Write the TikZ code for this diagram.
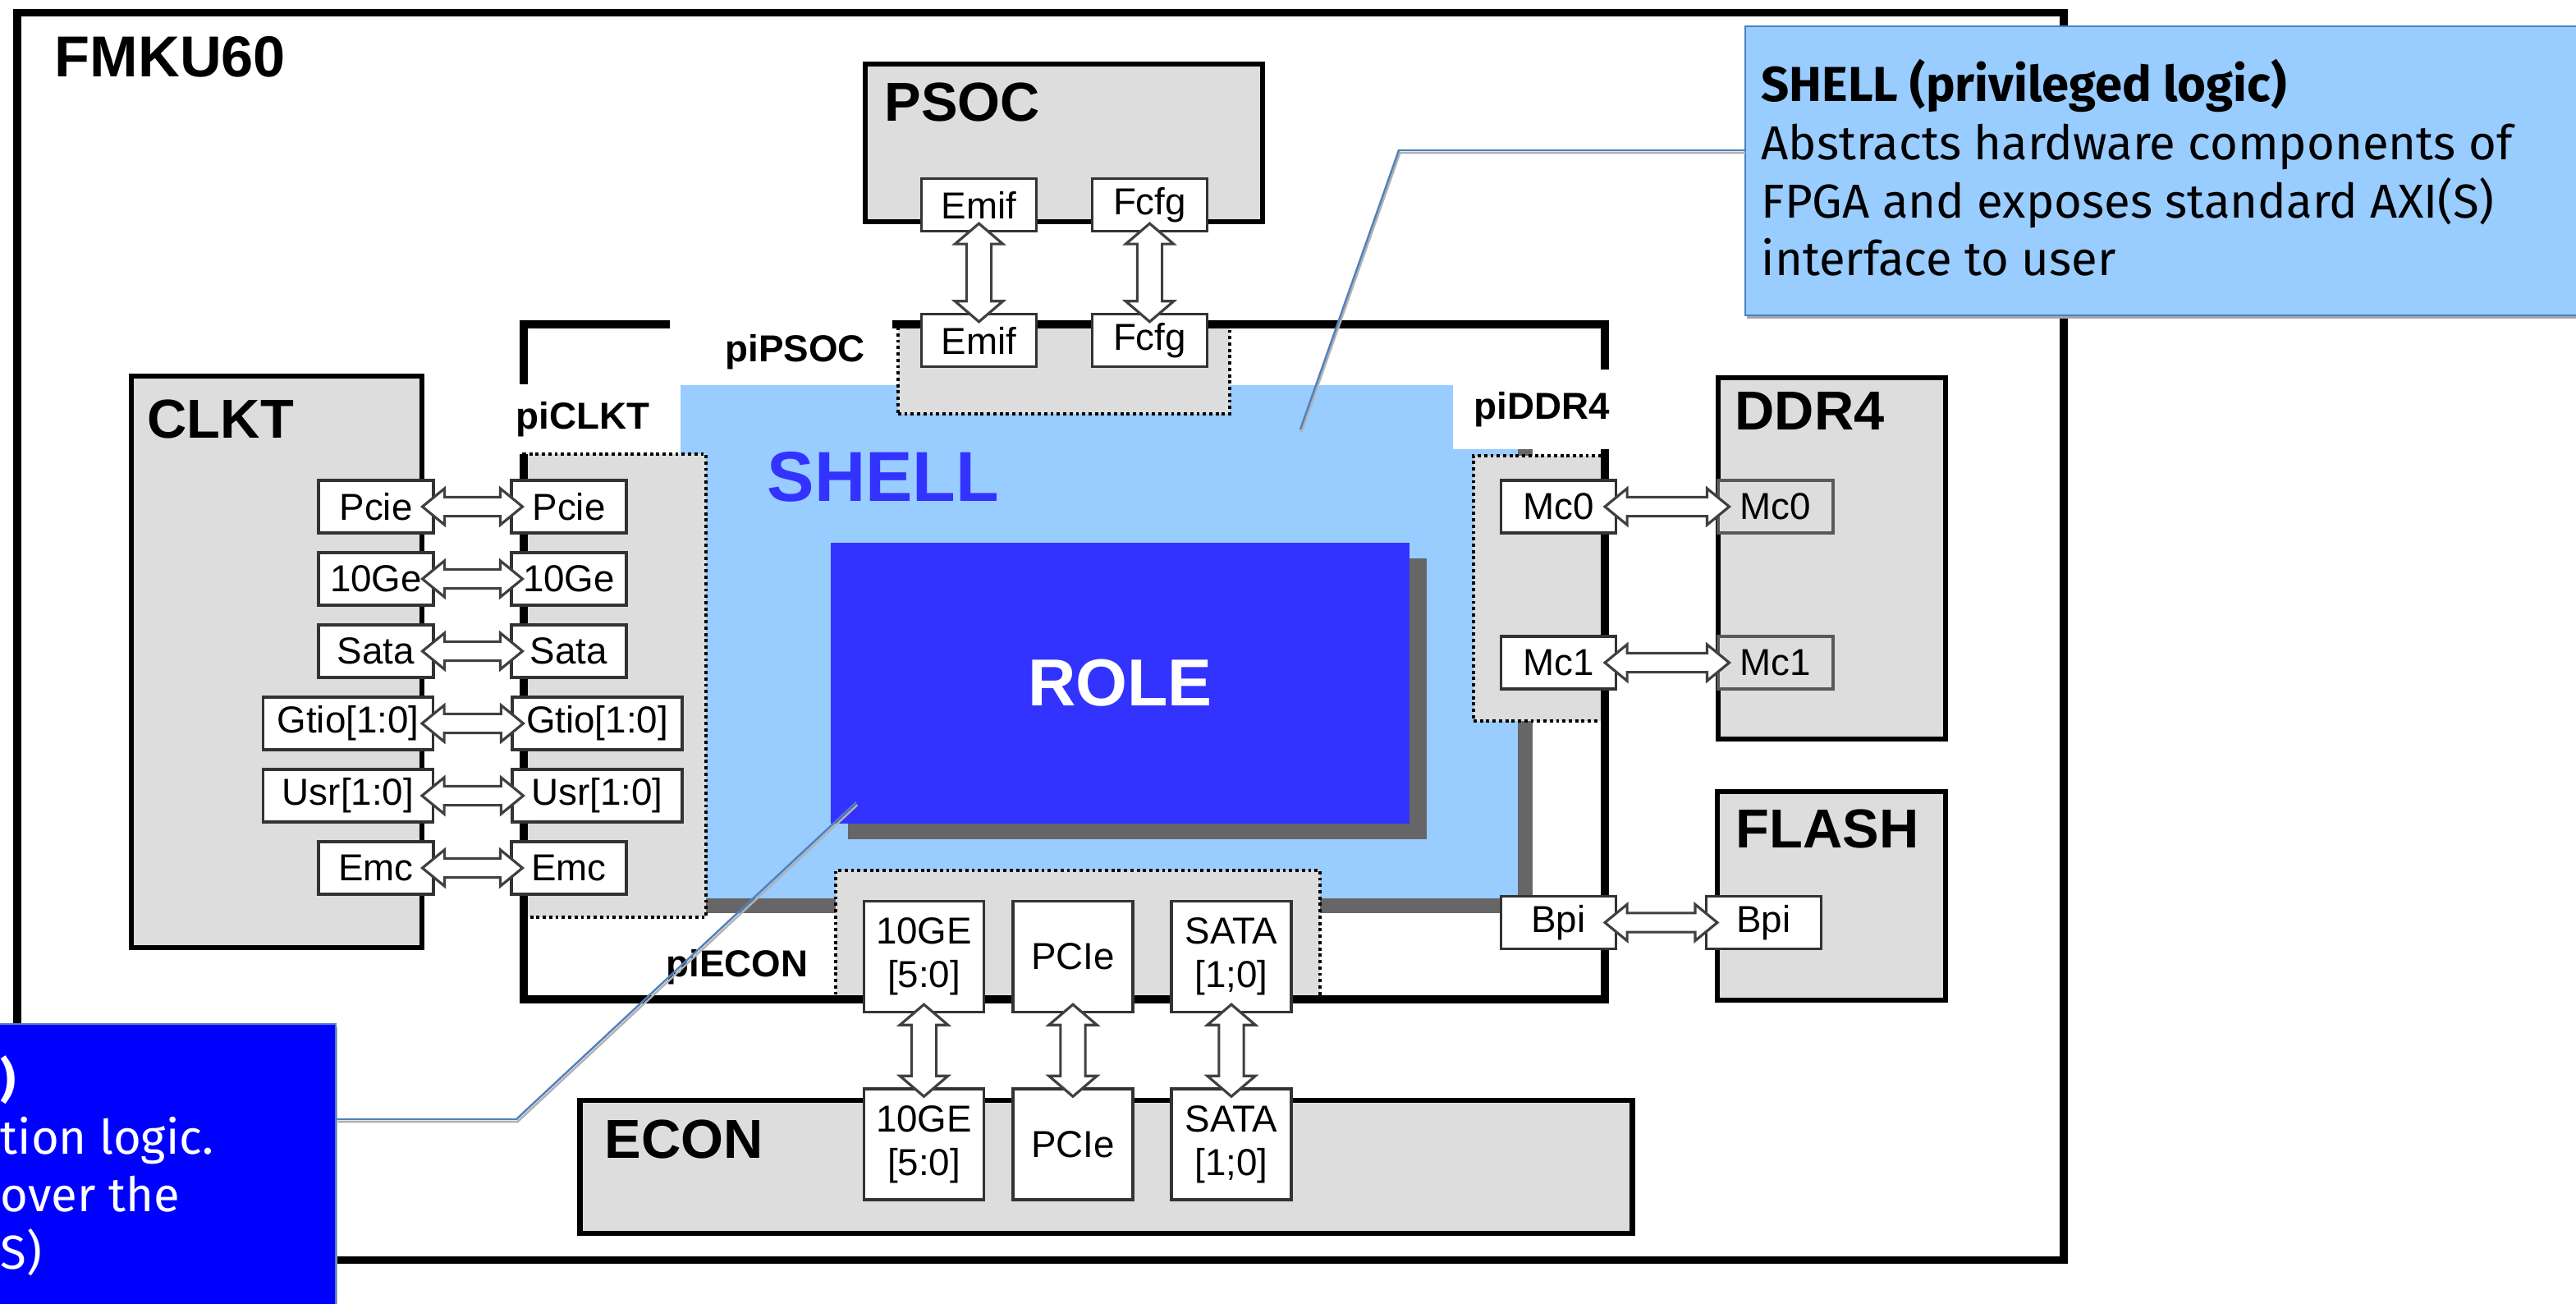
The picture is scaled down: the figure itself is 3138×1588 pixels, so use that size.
\documentclass[tikz,border=0pt]{standalone}
\usepackage{fontspec}
\setmainfont{Liberation Sans}
\newfontfamily\notefont{Fira Sans}
\usepackage{xcolor}
\usepackage{tikz}
\usetikzlibrary{calc,shadows}
\definecolor{chipgrey}{HTML}{DDDDDD}
\definecolor{shellblue}{HTML}{99CCFF}
\definecolor{roleblue}{HTML}{3333FF}
\definecolor{noteblue}{HTML}{0000FF}
\definecolor{shadowgrey}{HTML}{666666}
\definecolor{leaderblue}{HTML}{4F81BD}
\definecolor{arrowgrey}{HTML}{404040}

% hollow double arrow, left node to right node
\newcommand{\hlink}[2]{%
  \draw[link] let \p1=(#1.east), \p2=(#2.west) in
    (\x1-4.3pt,\y1) -- (\x1+3.4pt,\y1+6.3pt) -- (\x1+3.4pt,\y1+3.3pt)
    -- (\x2-3.4pt,\y1+3.3pt) -- (\x2-3.4pt,\y1+6.3pt) -- (\x2+4.3pt,\y1)
    -- (\x2-3.4pt,\y1-6.3pt) -- (\x2-3.4pt,\y1-3.3pt) -- (\x1+3.4pt,\y1-3.3pt)
    -- (\x1+3.4pt,\y1-6.3pt) -- cycle;}
% hollow double arrow, upper node to lower node
\newcommand{\vlink}[2]{%
  \draw[link] let \p1=(#1.south), \p2=(#2.north) in
    (\x1,\y1+3.1pt) -- (\x1+8.3pt,\y1-4pt) -- (\x1+4.3pt,\y1-4pt)
    -- (\x1+4.3pt,\y2+4pt) -- (\x1+8.3pt,\y2+4pt) -- (\x1,\y2-3.1pt)
    -- (\x1-8.3pt,\y2+4pt) -- (\x1-4.3pt,\y2+4pt) -- (\x1-4.3pt,\y1-4pt)
    -- (\x1-8.3pt,\y1-4pt) -- cycle;}

\begin{document}
\begin{tikzpicture}[
  x=0.01cm, y=-0.01cm,
  board/.style={draw=black, line width=2.8pt, fill=white, inner sep=0pt},
  edge/.style={draw=black, line width=2.8pt, line join=miter},
  chip/.style={draw=black, line width=1.8pt, fill=chipgrey, inner sep=0pt},
  pif/.style={draw=black, line width=1.1pt, dash pattern=on 1.1pt off 1.1pt,
              fill=chipgrey, inner sep=0pt},
  shellarea/.style={fill=shellblue, inner sep=0pt,
              drop shadow={shadow xshift=0.18cm, shadow yshift=-0.18cm,
                           fill=shadowgrey, opacity=1}},
  rolearea/.style={fill=roleblue, inner sep=0pt, text=white,
              font=\fontsize{23}{26}\selectfont\bfseries,
              drop shadow={shadow xshift=0.21cm, shadow yshift=-0.19cm,
                           fill=shadowgrey, opacity=1}},
  port/.style={draw=black!80, line width=0.9pt, fill=white, inner sep=0pt,
              minimum width=1.40cm, minimum height=0.64cm, align=center,
              font=\fontsize{13}{15}\selectfont},
  wport/.style={port, minimum width=2.07cm},
  tport/.style={port, minimum width=1.46cm, minimum height=1.35cm},
  dport/.style={port, fill=chipgrey, draw=black!65},
  chiplbl/.style={anchor=base west, inner sep=0pt,
              font=\fontsize{19}{22}\selectfont\bfseries},
  pilbl/.style={anchor=base west, inner sep=0pt,
              font=\fontsize{13}{15}\selectfont\bfseries},
  link/.style={draw=arrowgrey, fill=white, line width=0.9pt, line join=miter},
  callout/.style={draw=leaderblue, line width=0.6pt, inner sep=0pt,
              drop shadow={shadow xshift=0.02cm, shadow yshift=-0.04cm,
                           fill=black!35, opacity=1}},
  note/.style={anchor=base west, inner sep=0pt,
              font=\notefont\fontsize{16.5}{20}\selectfont},
  leader/.style={draw=leaderblue, line width=0.7pt},
  leadershade/.style={draw=black!30, line width=0.7pt,
              transform canvas={shift={(0.4pt,-0.9pt)}}}
]
\useasboundingbox (0,0) rectangle (3138,1588);
\clip (0,0) rectangle (3138,1588);

% ---- board and external chips -------------------------------------------
\node[board, minimum width=24.91cm, minimum height=15.18cm] (fmku) at (1267.5,775) {};
\node[chip, minimum width=4.84cm, minimum height=1.92cm]  (psoc)  at (1296,174)    {};
\node[chip, minimum width=3.54cm, minimum height=6.96cm]  (clkt)  at (337,806)     {};
\node[chip, minimum width=2.77cm, minimum height=4.40cm]  (ddr)   at (2231.5,680)  {};
\node[chip, minimum width=2.78cm, minimum height=2.54cm]  (flash) at (2231,1091)   {};
\node[chip, minimum width=12.81cm, minimum height=1.62cm] (econ)  at (1347.5,1421) {};

% ---- fpga, shell and interface regions ----------------------------------
\node[fill=white, inner sep=0pt, minimum width=13.17cm, minimum height=8.22cm] (fpga) at (1296.5,806) {};
\node[shellarea, minimum width=10.20cm, minimum height=6.25cm] (shell) at (1339,781.5) {};
\node[fill=white, inner sep=0pt, minimum width=1.92cm, minimum height=0.80cm] (piddrbg) at (1866,507) {};

\node[pif, minimum width=4.04cm, minimum height=1.09cm] (pipsoc) at (1296,449.5) {};
\node[pif, minimum width=2.22cm, minimum height=5.64cm] (piclkt) at (749,835)    {};
\node[pif, minimum width=1.60cm, minimum height=3.23cm] (piddr)  at (1875,716.5) {};
\node[pif, minimum width=5.90cm, minimum height=1.57cm] (piecon) at (1313,1138.5) {};

\draw[edge] (816,395) -- (638,395) -- (638,468);
\draw[edge] (638,553) -- (638,1217) -- (1955,1217) -- (1955,547);
\draw[edge] (1955,450) -- (1955,395) -- (1087,395);

\node[rolearea, minimum width=7.05cm, minimum height=3.42cm] (role) at (1364.5,832) {ROLE};

% ---- ports --------------------------------------------------------------
\node[port] (psemif) at (1192.5,249.5) {Emif};
\node[port] (psfcfg) at (1400.5,249.5) {Fcfg};
\node[port] (piemif) at (1192.5,414.5) {Emif};
\node[port] (pifcfg) at (1400.5,414.5) {Fcfg};

\node[port]  (clkpcie) at (458,617)   {Pcie};
\node[port]  (clkteng) at (458,705)   {10Ge};
\node[port]  (clksata) at (458,793)   {Sata};
\node[wport] (clkgtio) at (424,881)   {Gtio[1:0]};
\node[wport] (clkusr)  at (424,969)   {Usr[1:0]};
\node[port]  (clkemc)  at (458,1057)  {Emc};
\node[port]  (pipcie)  at (693,617)   {Pcie};
\node[port]  (piteng)  at (693,705)   {10Ge};
\node[port]  (pisata)  at (693,793)   {Sata};
\node[wport] (pigtio)  at (727.5,881) {Gtio[1:0]};
\node[wport] (piusr)   at (727.5,969) {Usr[1:0]};
\node[port]  (piemc)   at (693,1057)  {Emc};

\node[port]  (pimczero) at (1898.5,617)    {Mc0};
\node[port]  (pimcone)  at (1898.5,807)    {Mc1};
\node[dport] (ddrmczero) at (2163,617)     {Mc0};
\node[dport] (ddrmcone)  at (2163,807)     {Mc1};
\node[port]  (pibpi)    at (1898.5,1123.5) {Bpi};
\node[port]  (flbpi)    at (2148.5,1123.5) {Bpi};

\node[tport] (piecteng) at (1125.5,1165) {10GE\\{[5:0]}};
\node[tport] (piecpcie) at (1307,1165)   {PCIe};
\node[tport] (piecsata) at (1500,1165)   {SATA\\{[1;0]}};
\node[tport] (ecteng)   at (1125.5,1393.5) {10GE\\{[5:0]}};
\node[tport] (ecpcie)   at (1307,1393.5)   {PCIe};
\node[tport] (ecsata)   at (1500,1393.5)   {SATA\\{[1;0]}};

% ---- links --------------------------------------------------------------
\vlink{psemif}{piemif}
\vlink{psfcfg}{pifcfg}
\hlink{clkpcie}{pipcie}
\hlink{clkteng}{piteng}
\hlink{clksata}{pisata}
\hlink{clkgtio}{pigtio}
\hlink{clkusr}{piusr}
\hlink{clkemc}{piemc}
\hlink{pimczero}{ddrmczero}
\hlink{pimcone}{ddrmcone}
\hlink{pibpi}{flbpi}
\vlink{piecteng}{ecteng}
\vlink{piecpcie}{ecpcie}
\vlink{piecsata}{ecsata}

% ---- labels -------------------------------------------------------------
\node[chiplbl, font=\fontsize{20}{23}\selectfont\bfseries] (fmkulbl) at (66,94) {FMKU60};
\node[chiplbl] (psoclbl)  at (1077,148)  {PSOC};
\node[chiplbl] (clktlbl)  at (179,533)   {CLKT};
\node[chiplbl] (ddrlbl)   at (2113,523)  {DDR4};
\node[chiplbl] (flashlbl) at (2114,1032) {FLASH};
\node[chiplbl] (econlbl)  at (736,1410)  {ECON};
\node[anchor=base west, inner sep=0pt, text=roleblue,
      font=\fontsize{24.5}{28}\selectfont\bfseries] (shelllbl) at (934,610) {SHELL};

\node[pilbl] (pipsoclbl) at (883,440)   {piPSOC};
\node[pilbl] (piclktlbl) at (628,522)   {piCLKT};
\node[pilbl] (piddrlbl)  at (1795,510)  {piDDR4};
\node[pilbl] (pieconlbl) at (811,1189)  {piECON};

% ---- callouts -----------------------------------------------------------
\node[callout, fill=shellblue, anchor=north west, minimum width=10.35cm,
      minimum height=3.52cm] (shellnote) at (2125,31) {};
\node[note, font=\notefont\fontsize{17}{20}\selectfont\bfseries] (shellttl) at (2145,124) {SHELL (privileged logic)};
\node[note] (shelllna) at (2145,195) {Abstracts hardware components of};
\node[note] (shelllnb) at (2145,265) {FPGA and exposes standard AXI(S)};
\node[note] (shelllnc) at (2145,335) {interface to user};

\node[callout, fill=noteblue, anchor=north east, minimum width=4.40cm,
      minimum height=3.60cm] (rolenote) at (410,1246) {};
\node[note, text=white,
      font=\notefont\fontsize{16.5}{20}\selectfont\bfseries] (rolettl) at (0,1335) {)};
\node[note, text=white] (rolelna) at (0,1405) {tion logic.};
\node[note, text=white] (rolelnb) at (0,1475) {over the};
\node[note, text=white] (rolelnc) at (0,1545) {S)};

\coordinate (shellpin)  at (1584,523);
\coordinate (shellbend) at (1704,183);
\coordinate (rolepin)   at (1043,977);
\coordinate (rolebend)  at (629,1363);
\draw[leadershade] (shellnote.west |- shellbend) -- (shellbend) -- (shellpin);
\draw[leader] (shellnote.west |- shellbend) -- (shellbend) -- (shellpin);
\draw[leadershade] (rolenote.east |- rolebend) -- (rolebend) -- (rolepin);
\draw[leader] (rolenote.east |- rolebend) -- (rolebend) -- (rolepin);

\end{tikzpicture}
\end{document}
